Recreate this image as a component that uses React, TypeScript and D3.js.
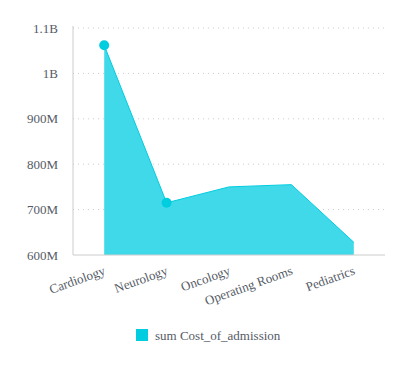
import React from "react";
import * as d3 from "d3";

const categories = ["Cardiology", "Neurology", "Oncology", "Operating Rooms", "Pediatrics"];
const values = [1062e6, 715e6, 750e6, 755e6, 628e6];
const markerShown = [true, true, false, false, false];
const yTicks = [600e6, 700e6, 800e6, 900e6, 1000e6, 1100e6];
const yTickLabels = ["600M", "700M", "800M", "900M", "1B", "1.1B"];
const seriesName = "sum Cost_of_admission";

export default function App() {
  const W = 415, H = 376;
  const left = 73, right = 385, top = 28, bottom = 255;
  const x = d3.scaleBand<string>().domain(categories).range([left, right]);
  const y = d3.scaleLinear().domain([600e6, 1100e6]).range([bottom, top]);
  const cx = (c: string) => (x(c) ?? 0) + x.bandwidth() / 2;
  const data = categories.map((c, i) => ({ c, v: values[i] }));
  const area = d3.area<{ c: string; v: number }>().x(d => cx(d.c)).y0(bottom).y1(d => y(d.v));
  const line = d3.line<{ c: string; v: number }>().x(d => cx(d.c)).y(d => y(d.v));
  const ts: React.CSSProperties = { fontFamily: "Liberation Serif, Times New Roman, serif", fontSize: "13px" };
  const color = "#00cde0";
  return (
    <svg width={W} height={H} style={{ position: "absolute", left: 0, top: 0 }}>
      {yTicks.map((t, i) => (
        <g key={t}>
          {i > 0 && (
            <line x1={left} x2={right} y1={y(t)} y2={y(t)} stroke="#ccc" strokeDasharray="1,4" />
          )}
          <text x={58} y={y(t)} dy="0.35em" textAnchor="end" style={ts} fill="#555b66">
            {yTickLabels[i]}
          </text>
        </g>
      ))}
      <path d={area(data) ?? ""} fill="#40d9ea" />
      <path d={line(data) ?? ""} fill="none" stroke={color} strokeWidth={1} />
      <line x1={left} x2={left} y1={top - 2} y2={bottom} stroke="#ccc" />
      <line x1={left} x2={right} y1={bottom} y2={bottom} stroke="#ccc" />
      {data.map((d, i) =>
        markerShown[i] ? <circle key={d.c} cx={cx(d.c)} cy={y(d.v)} r={5} fill={color} /> : null
      )}
      {categories.map(c => (
        <text
          key={c}
          transform={`translate(${cx(c) + 2},${bottom + 19}) rotate(-20)`}
          textAnchor="end"
          style={ts}
          fill="#555b66"
        >
          {c}
        </text>
      ))}
      <rect x={136} y={329} width={12} height={12} fill={color} />
      <text x={155} y={340} style={ts} fill="#555b66">{seriesName}</text>
    </svg>
  );
}
